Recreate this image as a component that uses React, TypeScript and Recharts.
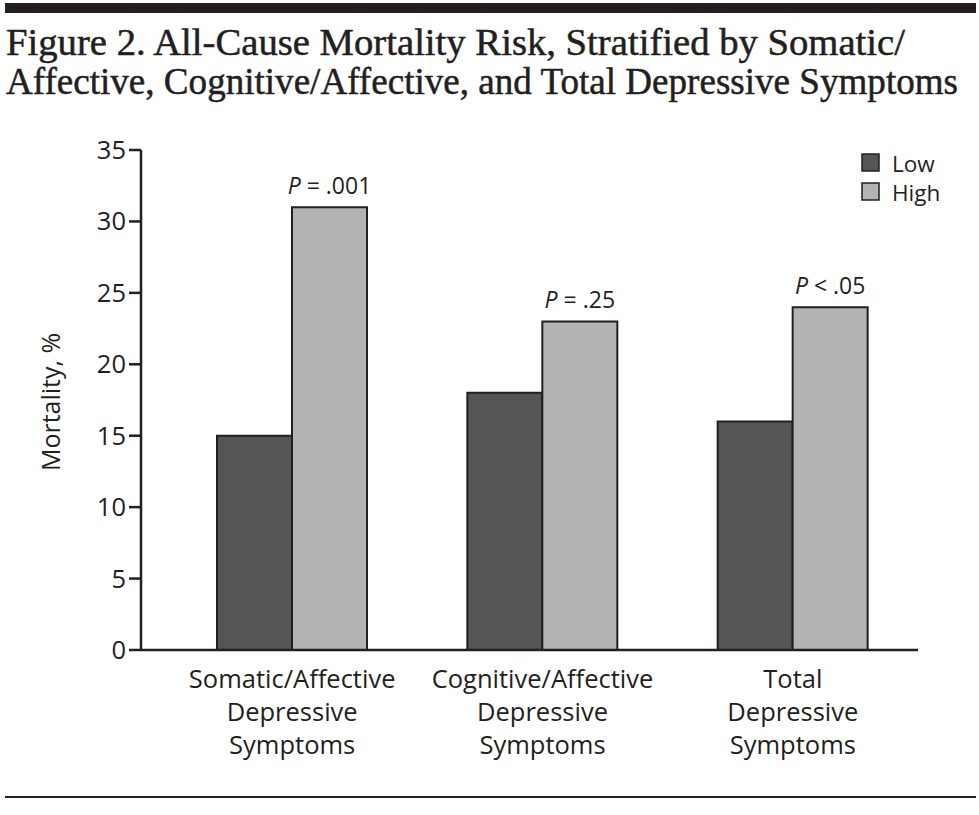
import React from 'react';
import { BarChart, Bar, XAxis, YAxis, LabelList } from 'recharts';

const categories = ['Somatic/Affective|Depressive|Symptoms', 'Cognitive/Affective|Depressive|Symptoms', 'Total|Depressive|Symptoms'];
const lowValues = [15, 18, 16];
const highValues = [31, 23, 24];
const pLabels = ['= .001', '= .25', '< .05'];
const yTicks = [0, 5, 10, 15, 20, 25, 30, 35];
const titleLines = [
  'Figure 2. All-Cause Mortality Risk, Stratified by Somatic/',
  'Affective, Cognitive/Affective, and Total Depressive Symptoms',
];

const data = categories.map((c, i) => ({
  name: c,
  low: lowValues[i],
  high: highValues[i],
  p: pLabels[i],
}));

const SANS = '"Open Sans", "Noto Sans", sans-serif';
const SERIF = '"Liberation Serif", "DejaVu Serif", serif';
const INK = '#231f20';

const CategoryTick = (props: any) => {
  const { x, y, payload } = props;
  const lines = String(payload.value).split('|');
  return (
    <text x={x} y={y} textAnchor="middle" fill={INK} fontFamily={SANS} fontSize={25.5}>
      {lines.map((l, i) => (
        <tspan key={i} x={x} dy={i === 0 ? 30 : 33}>{l}</tspan>
      ))}
    </text>
  );
};

const PLabel = (props: any) => {
  const { x, y, width, value } = props;
  return (
    <text x={x + width / 2} y={y - 13} textAnchor="middle" fill={INK} fontFamily={SANS} fontSize={23}>
      <tspan fontStyle="italic">P</tspan>
      <tspan> {value}</tspan>
    </text>
  );
};

export default function App() {
  return (
    <div style={{ position: 'absolute', left: 0, top: 0, width: 979, height: 815, background: '#fff' }}>
      <svg width={979} height={815} style={{ position: 'absolute', left: 0, top: 0 }}>
        <rect x={5} y={3} width={971} height={10} fill={INK} />
        <text x={6} y={55} fontFamily={SERIF} fontSize={37} fill={INK} stroke={INK} strokeWidth={0.5}
          textLength={899} lengthAdjust="spacingAndGlyphs">
          {titleLines[0]}
        </text>
        <text x={6} y={94} fontFamily={SERIF} fontSize={37} fill={INK} stroke={INK} strokeWidth={0.5}
          textLength={952} lengthAdjust="spacingAndGlyphs">
          {titleLines[1]}
        </text>
        <text x={0} y={0} transform="translate(60 402) rotate(-90)" textAnchor="middle" fontFamily={SANS} fontSize={25} fill={INK}>
          Mortality, %
        </text>
        <rect x={862} y={154} width={17} height={17} fill="#555555" stroke={INK} strokeWidth={1.5} />
        <text x={892} y={172} fontFamily={SANS} fontSize={22.5} fill={INK}>Low</text>
        <rect x={862} y={183} width={17} height={17} fill="#b3b3b3" stroke={INK} strokeWidth={1.5} />
        <text x={892} y={201} fontFamily={SANS} fontSize={22.5} fill={INK}>High</text>
        <rect x={5} y={796} width={971} height={2} fill={INK} />
      </svg>
      <div style={{ position: 'absolute', left: 0, top: 0 }}>
        <BarChart width={979} height={815} data={data} margin={{ top: 150, right: 61, bottom: 105, left: 0 }}
          barCategoryGap={50} barGap={0}>
          <XAxis dataKey="name" height={60} padding={{ left: 26, right: 0 }} tickLine={false}
            axisLine={{ stroke: INK, strokeWidth: 2.5 }} tick={<CategoryTick />} interval={0} />
          <YAxis width={141} domain={[0, 35]} ticks={yTicks} interval={0}
            axisLine={{ stroke: INK, strokeWidth: 2.5 }} tickLine={{ stroke: INK, strokeWidth: 2.5 }} tickSize={12}
            tick={{ fill: INK, fontFamily: SANS, fontSize: 25.5 }} tickMargin={3} />
          <Bar dataKey="low" fill="#555555" stroke={INK} strokeWidth={2} isAnimationActive={false} />
          <Bar dataKey="high" fill="#b3b3b3" stroke={INK} strokeWidth={2} isAnimationActive={false}>
            <LabelList dataKey="p" content={<PLabel />} />
          </Bar>
        </BarChart>
      </div>
    </div>
  );
}
